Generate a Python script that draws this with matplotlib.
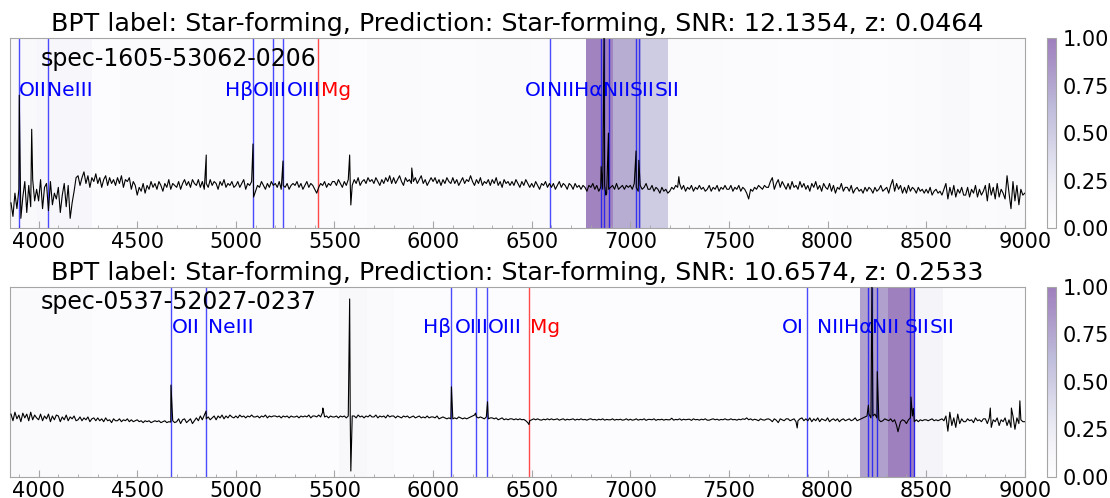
import numpy as np
import matplotlib
matplotlib.use("Agg")
import matplotlib.pyplot as plt
from matplotlib.ticker import MultipleLocator, FormatStrFormatter

# --- data -------------------------------------------------------------------

spec_ids = ["spec-1605-53062-0206", "spec-0537-52027-0237"]
bpt_labels = ["Star-forming", "Star-forming"]
predictions = ["Star-forming", "Star-forming"]
snr = [12.1354, 10.6574]
redshift = [0.0464, 0.2533]

line_names = ["OII", "NeIII", "Hβ", "OIII", "OIII", "Mg",
              "OI", "NII", "Hα", "NII", "SII", "SII"]
line_rest = [3727, 3869, 4861, 4959, 5007, 5175,
             6300, 6548, 6563, 6584, 6717, 6731]

# attention heat, one value per wavelength bin
heat1 = [0.08, 0.12, 0.12, 0.02, 0.06, 0.06, 0.05, 0.06, 0.06, 0.08,
         0.06, 0.05, 0.03, 0.06, 0.06, 0.05, 0.05, 0.06, 0.06, 0.04,
         0.03, 0.98, 0.72, 0.50, 0.06, 0.06, 0.05, 0.05, 0.03, 0.03,
         0.04, 0.03, 0.04, 0.07, 0.08, 0.04, 0.07]
heat2 = [0.06, 0.06, 0.06, 0.03, 0.03, 0.03, 0.03, 0.03, 0.03, 0.03,
         0.03, 0.03, 0.10, 0.06, 0.03, 0.03, 0.03, 0.03, 0.03, 0.03,
         0.03, 0.03, 0.03, 0.03, 0.03, 0.02, 0.02, 0.02, 0.02, 0.02,
         0.02, 0.80, 1.00, 0.15, 0.03, 0.03, 0.03]

# continuum flux sampled every 10 A from 3860 to 9000 (one row per 100 A)
flux1 = [
    1.5, 0.8, 2.0, 1.2, 2.2, 0.7, 1.8, 2.6, 1.0, 2.4, 1.3, 2.7, 1.6, 2.2,
    1.6, 2.7, 1.2, 2.3, 2.5, 1.1, 2.6, 1.4, 2.0, 1.7,
    2.3, 1.0, 1.9, 2.5, 1.3, 2.4, 0.7, 1.5, 2.1, 2.8,
    2.9, 2.4, 2.8, 3.1, 2.5, 2.9, 2.3, 2.8, 2.6, 3.0,
    2.5, 2.8, 2.3, 2.7, 2.9, 2.4, 2.8, 2.5, 2.7, 2.4,
    2.8, 2.5, 2.9, 2.3, 2.7, 2.6, 2.8, 2.2, 2.6, 2.4,
    1.9, 2.3, 2.1, 2.5, 2.0, 2.4, 2.2, 2.6, 2.3, 2.5,
    2.2, 2.6, 2.4, 2.1, 2.5, 2.3, 2.7, 2.2, 2.5, 2.4,
    2.3, 2.6, 2.2, 2.5, 2.7, 2.4, 2.6, 2.3, 2.7, 2.5,
    2.4, 2.7, 2.3, 2.6, 2.2, 2.5, 2.3, 2.7, 2.4, 2.6,
    2.5, 2.2, 2.6, 2.4, 2.7, 2.3, 2.5, 2.4, 2.6, 2.3,
    2.4, 2.6, 2.3, 2.5, 2.7, 2.2, 2.5, 2.4, 2.6, 2.2,
    2.1, 2.4, 2.3, 2.6, 2.4, 2.2, 2.5, 2.3, 2.6, 2.4,
    2.5, 2.3, 2.6, 2.2, 2.4, 2.3, 2.5, 2.2, 2.4, 2.5,
    2.4, 2.6, 2.3, 2.5, 2.2, 2.4, 2.6, 2.3, 2.5, 2.4,
    2.2, 2.0, 2.3, 2.5, 2.4, 2.6, 2.3, 2.5, 2.4, 2.6,
    2.6, 2.4, 2.7, 2.5, 2.3, 2.6, 2.4, 2.7, 2.5, 2.4,
    2.7, 2.5, 2.8, 2.4, 2.6, 2.7, 2.5, 2.8, 2.6, 2.7,
    2.5, 2.8, 2.6, 2.4, 2.7, 2.5, 2.8, 2.6, 2.9, 2.5,
    2.8, 2.5, 2.7, 2.9, 2.6, 2.4, 2.8, 2.6, 2.7, 2.5,
    2.6, 2.8, 2.5, 2.7, 2.9, 2.5, 2.7, 2.4, 2.6, 2.8,
    2.6, 2.8, 2.5, 2.7, 2.4, 2.7, 2.5, 2.8, 2.6, 2.5,
    2.8, 2.5, 2.7, 2.4, 2.6, 2.8, 2.5, 2.7, 2.6, 2.9,
    2.6, 2.4, 2.7, 2.5, 2.8, 2.4, 2.6, 2.5, 2.7, 2.4,
    2.7, 2.5, 2.8, 2.4, 2.6, 2.3, 2.7, 2.5, 2.6, 2.4,
    2.6, 2.4, 2.7, 2.5, 2.3, 2.6, 2.4, 2.7, 2.5, 2.3,
    2.5, 2.3, 2.6, 2.4, 2.2, 2.5, 2.4, 2.6, 2.3, 2.5,
    2.3, 2.5, 2.2, 2.4, 2.6, 2.3, 2.5, 2.4, 2.2, 2.5,
    2.4, 2.2, 2.5, 2.3, 2.4, 2.2, 2.4, 2.3, 2.1, 2.4,
    2.3, 2.5, 2.2, 2.4, 2.1, 2.3, 2.2, 2.4, 2.0, 2.2,
    2.3, 2.4, 2.2, 2.5, 2.2, 2.3, 2.4, 2.2, 2.4, 2.3,
    2.4, 2.2, 2.5, 2.3, 2.1, 2.4, 2.2, 2.3, 2.5, 2.2,
    2.2, 2.4, 2.1, 2.3, 2.2, 2.0, 2.3, 2.1, 2.2, 2.0,
    2.1, 2.3, 2.2, 2.4, 2.3, 2.5, 2.2, 2.4, 2.1, 2.3,
    2.2, 2.4, 2.1, 2.3, 2.2, 2.4, 2.2, 2.3, 2.1, 2.2,
    2.4, 2.1, 2.3, 2.2, 2.4, 2.1, 2.3, 2.2, 2.4, 2.2,
    2.2, 2.4, 2.1, 2.3, 2.2, 2.4, 2.1, 2.3, 2.2, 2.0,
    1.7, 2.2, 2.1, 2.3, 2.2, 2.4, 2.3, 2.2, 2.4, 2.3,
    2.3, 2.6, 2.8, 2.2, 2.5, 2.7, 2.3, 2.6, 2.4, 2.2,
    2.5, 2.2, 2.6, 2.3, 2.4, 2.2, 2.6, 2.3, 2.5, 2.2,
    2.4, 2.1, 2.5, 2.3, 2.6, 2.2, 2.4, 2.1, 2.5, 2.3,
    2.2, 2.5, 2.1, 2.4, 2.0, 2.3, 2.2, 2.5, 2.1, 2.3,
    2.3, 2.1, 2.4, 2.0, 2.2, 2.3, 2.1, 2.2, 2.0, 2.3,
    2.1, 2.3, 2.2, 2.0, 2.3, 2.1, 2.2, 2.4, 2.1, 2.2,
    2.3, 2.0, 2.4, 2.7, 2.1, 2.5, 2.2, 2.4, 2.0, 2.3,
    2.0, 2.4, 2.1, 2.3, 2.2, 2.0, 2.3, 2.1, 2.2, 2.0,
    2.2, 2.0, 2.3, 1.9, 2.1, 2.2, 2.0, 2.1, 1.9, 2.2,
    2.5, 1.7, 2.3, 1.9, 2.4, 1.8, 2.2, 2.0, 2.3, 1.9,
    1.9, 2.3, 1.8, 2.2, 2.0, 2.4, 1.8, 2.2, 1.9, 2.1,
    2.4, 1.6, 2.5, 1.9, 2.3, 1.7, 2.5, 1.8, 2.2, 2.0,
    1.7, 2.9, 2.0, 1.2, 2.6, 1.6, 2.4, 1.4, 2.2, 1.9,
    2.0,
]
flux2 = [
    3.3, 2.95, 3.4, 3.05, 3.25, 2.9, 3.35, 3.1, 3.3, 2.95, 3.4, 3.0, 3.25, 3.1,
    3.0, 3.3, 2.95, 3.2, 3.05, 3.3, 2.9, 3.2, 3.0, 3.25,
    3.2, 2.9, 3.15, 3.0, 3.25, 2.95, 3.15, 3.05, 3.2, 2.95,
    3.0, 3.15, 2.95, 3.1, 3.0, 3.15, 2.9, 3.05, 3.1, 2.95,
    3.1, 2.95, 3.05, 2.9, 3.1, 2.95, 3.0, 2.85, 3.05, 2.95,
    2.95, 3.05, 2.9, 3.0, 2.95, 3.05, 2.9, 3.0, 2.9, 2.95,
    3.0, 2.9, 2.95, 2.85, 2.95, 2.9, 2.95, 2.85, 2.9, 2.95,
    2.9, 2.95, 2.85, 2.9, 2.95, 2.85, 2.9, 2.88, 2.95, 2.85,
    2.9, 3.05, 2.8, 3.0, 3.05, 2.85, 2.95, 3.05, 2.8, 2.95,
    3.1, 2.95, 3.2, 3.0, 3.25, 3.05, 3.15, 3.0, 3.1, 3.2,
    3.0, 3.2, 3.1, 3.25, 3.05, 3.2, 3.1, 3.25, 3.15, 3.1,
    3.2, 3.1, 3.25, 3.15, 3.2, 3.1, 3.2, 3.15, 3.25, 3.15,
    3.15, 3.2, 3.1, 3.2, 3.15, 3.25, 3.1, 3.2, 3.15, 3.2,
    3.2, 3.15, 3.2, 3.1, 3.2, 3.15, 3.2, 3.1, 3.2, 3.15,
    3.15, 3.2, 3.1, 3.2, 3.15, 3.2, 3.15, 3.25, 3.1, 3.2,
    3.2, 3.15, 3.25, 3.15, 3.4, 3.15, 3.2, 3.1, 3.2, 3.15,
    3.15, 3.2, 3.1, 3.2, 3.15, 3.2, 3.1, 3.2, 3.15, 3.2,
    3.2, 3.1, 3.25, 3.15, 3.2, 3.1, 3.2, 3.15, 3.25, 3.15,
    3.15, 3.25, 3.1, 3.2, 3.15, 3.2, 3.1, 3.25, 3.15, 3.2,
    3.2, 3.1, 3.2, 3.15, 3.1, 3.2, 3.15, 3.2, 3.1, 3.15,
    3.2, 3.1, 3.15, 3.2, 3.1, 3.15, 3.1, 3.2, 3.1, 3.15,
    3.15, 3.1, 3.2, 3.05, 3.1, 3.15, 3.1, 3.05, 3.1, 3.05,
    3.05, 3.1, 3.05, 3.15, 3.1, 3.05, 3.1, 3.05, 3.1, 3.15,
    3.2, 3.25, 3.15, 3.1, 3.15, 3.1, 3.05, 3.15, 3.05, 3.1,
    3.1, 3.05, 3.1, 3.0, 3.05, 3.1, 3.0, 3.05, 3.0, 3.05,
    3.05, 3.0, 3.05, 3.0, 3.05, 3.0, 3.02, 2.95, 2.85, 2.95,
    3.0, 3.05, 3.0, 3.05, 3.0, 2.98, 3.03, 3.0, 3.05, 3.0,
    3.05, 3.0, 3.02, 3.05, 2.98, 3.02, 3.05, 2.98, 3.03, 3.0,
    3.02, 3.05, 2.98, 3.03, 3.0, 3.05, 3.0, 3.02, 2.98, 3.03,
    3.05, 3.0, 3.02, 2.98, 3.03, 3.0, 3.05, 2.98, 3.02, 3.0,
    3.0, 3.05, 2.98, 3.02, 3.0, 3.03, 2.98, 3.0, 3.05, 2.98,
    3.03, 2.98, 3.0, 3.05, 2.98, 3.02, 3.0, 3.05, 2.97, 3.02,
    3.02, 3.0, 3.05, 2.97, 3.02, 3.0, 3.03, 2.98, 3.02, 3.0,
    3.0, 3.08, 2.98, 3.02, 3.0, 3.05, 2.98, 3.03, 3.0, 3.02,
    3.03, 2.97, 3.05, 3.0, 3.02, 2.98, 3.03, 3.0, 3.05, 2.98,
    2.98, 3.02, 3.05, 3.0, 3.03, 2.98, 3.02, 3.0, 3.05, 3.0,
    3.0, 3.05, 3.0, 3.02, 2.98, 3.03, 3.0, 3.05, 3.02, 3.1,
    3.0, 3.05, 2.98, 3.03, 3.0, 2.95, 3.05, 3.0, 2.98, 3.03,
    3.05, 3.0, 2.9, 3.05, 2.98, 2.85, 3.05, 3.0, 2.95, 3.05,
    3.05, 2.95, 3.0, 3.05, 2.9, 2.95, 3.05, 3.1, 2.95, 3.05,
    2.95, 3.1, 2.9, 3.05, 2.95, 3.1, 2.9, 3.05, 3.0, 2.95,
    3.1, 2.9, 3.0, 3.05, 2.95, 3.05, 2.9, 3.0, 3.05, 2.95,
    3.0, 3.05, 2.95, 3.0, 3.1, 2.95, 3.0, 3.05, 3.1, 3.15,
    3.2, 3.3, 3.1, 3.2, 3.3, 3.1, 3.0, 2.9, 2.95, 3.05,
    3.0, 2.95, 3.05, 2.9, 3.0, 2.7, 2.5, 2.9, 3.0, 2.95,
    2.8, 3.0, 3.1, 3.2, 2.9, 3.0, 2.9, 3.0, 2.95, 3.0,
    3.0, 2.95, 3.0, 3.05, 2.95, 3.0, 2.95, 3.0, 3.05, 2.95,
    3.2, 2.4, 3.4, 2.7, 3.1, 2.6, 3.3, 2.8, 3.05, 2.9,
    2.9, 3.05, 2.95, 3.0, 2.85, 3.1, 2.95, 3.0, 2.9, 3.05,
    3.05, 2.8, 3.1, 2.6, 3.0, 2.9, 3.1, 2.7, 3.0, 2.9,
    3.1, 2.7, 3.0, 2.6, 3.2, 2.5, 3.1, 2.8, 3.0, 2.9,
    2.9,
]

# narrow features (emission lines, sky residuals) between the samples
spike_wave1 = [3902, 3965, 4850, 5087, 5090, 5239, 5577, 5583, 5892,
               6852, 6867, 6876, 6889, 7029, 7043, 7246]
spike_flux1 = [7.06, 5.3, 3.97, 4.54, 1.8, 3.66, 3.97, 1.39, 3.3,
               3.37, 10.5, 1.9, 5.1, 4.18, 3.7, 2.85]
spike_wave2 = [4671, 4849, 5441, 5577, 5583, 6093, 6215, 6276, 6486,
               7846, 8207, 8225, 8252, 8357, 8423, 8435, 8825, 8932, 8975]
spike_flux2 = [4.83, 3.46, 3.62, 9.37, 0.3, 4.74, 3.35, 3.95, 2.75,
               2.57, 3.77, 10.5, 5.54, 2.37, 4.2, 3.6, 3.62, 3.62, 4.0]

# --- layout -----------------------------------------------------------------

W, H = 1110, 498
XLIM = (3855, 9001)
# label runs: (left edge in data x, line indices drawn one after another)
label_runs = [
    [(3902, [0, 1]), (4945, [2, 3, 4, 5]), (6467, [6, 7, 8, 9, 10, 11])],
    [(4677, [0]), (4860, [1]), (5949, [2]), (6110, [3]), (6279, [4]),
     (6493, [5]), (7770, [6]), (7945, [7, 8, 9]), (8393, [10, 11])],
]
label_y = [0.727, 0.789]
name_y = [0.89, 0.92]
ylims = [(0.2, 10.0), (0.0, 10.0)]
ax_rects = [
    [10 / W, (H - 228) / H, 1015 / W, 189.7 / H],
    [10 / W, (H - 476.7) / H, 1015 / W, 189.7 / H],
]
cax_rects = [[1046.5 / W, r[1], 9.5 / W, r[3]] for r in ax_rects]
SPINE = "0.65"


def build_spectrum(flux, spike_wave, spike_flux):
    """Merge the regular samples with the narrow features, sorted by wavelength."""
    wave = np.linspace(3860, 9000, len(flux))
    w = np.concatenate([wave, spike_wave])
    f = np.concatenate([flux, spike_flux])
    order = np.argsort(w)
    return w[order], f[order]


def draw_panel(fig, i, flux, spikes, heat):
    ax = fig.add_axes(ax_rects[i])
    cax = fig.add_axes(cax_rects[i])
    lo, hi = ylims[i]
    ax.set_xlim(*XLIM)
    ax.set_ylim(lo, hi)

    im = ax.imshow(np.array(heat)[np.newaxis, :], cmap="Purples", alpha=0.5,
                   vmin=0, vmax=1, aspect="auto", interpolation="nearest",
                   extent=[XLIM[0], XLIM[1], lo, hi], zorder=0)

    wave, f = build_spectrum(flux, *spikes)
    ax.plot(wave, f, color="black", lw=0.8, zorder=3)

    z = redshift[i]
    colors = ["red" if n == "Mg" else "blue" for n in line_names]
    for rest, col in zip(line_rest, colors):
        ax.axvline(rest * (1 + z), color=col, lw=1.0, alpha=0.7, zorder=2)

    # labels: each run starts at a given x, next label starts where the last ends
    renderer = fig.canvas.get_renderer()
    inv = ax.transData.inverted()
    for x0, idx in label_runs[i]:
        x = x0
        for k in idx:
            t = ax.text(x, label_y[i], line_names[k], color=colors[k],
                        fontsize=14.5, ha="left", va="center",
                        transform=ax.get_xaxis_transform(), zorder=4)
            bb = t.get_window_extent(renderer)
            x = inv.transform((bb.x1, bb.y0))[0]

    ax.text(0.03, name_y[i], spec_ids[i], fontsize=17, ha="left",
            va="center", transform=ax.transAxes, zorder=4)
    ax.set_title(f"BPT label: {bpt_labels[i]}, Prediction: {predictions[i]}, "
                 f"SNR: {snr[i]:.4f}, z: {z:.4f}", fontsize=18.3, pad=5)

    ax.set_yticks([])
    ax.xaxis.set_major_locator(MultipleLocator(500))
    ax.xaxis.set_minor_locator(MultipleLocator(100))
    ax.tick_params(axis="x", which="major", direction="in", length=5,
                   color=SPINE, labelsize=15, pad=3)
    ax.tick_params(axis="x", which="minor", direction="in", length=2.5,
                   color=SPINE)
    for s in ax.spines.values():
        s.set_color(SPINE)

    cb = fig.colorbar(im, cax=cax, ticks=[0, 0.25, 0.5, 0.75, 1.0])
    cb.ax.yaxis.set_major_formatter(FormatStrFormatter("%.2f"))
    cb.outline.set_edgecolor(SPINE)
    cb.ax.tick_params(length=0, labelsize=15, pad=5)
    return ax


fig = plt.figure(figsize=(W / 100, H / 100), dpi=100)
draw_panel(fig, 0, flux1, (spike_wave1, spike_flux1), heat1)
draw_panel(fig, 1, flux2, (spike_wave2, spike_flux2), heat2)
fig.savefig("out.png", dpi=100)
